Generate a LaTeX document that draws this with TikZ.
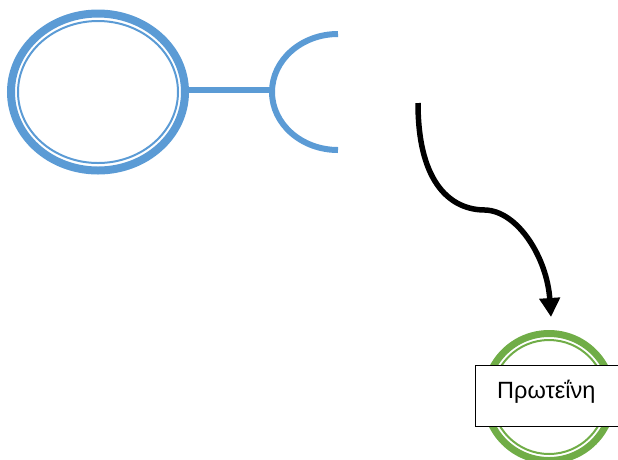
\documentclass[tikz,border=0pt]{standalone}
\usepackage{fontspec}
\setmainfont{Liberation Sans}
\usetikzlibrary{shapes.geometric,arrows.meta}
\definecolor{cellblue}{HTML}{5B9BD5}
\definecolor{protgreen}{HTML}{70AD47}
\tikzset{
  ringthick/.style={draw, line width=#1, inner sep=0pt, outer sep=0pt},
  bluepart/.style={cellblue},
  greenpart/.style={protgreen},
  flow/.style={line width=5.5pt, -{Triangle[width=20pt,length=19pt]}},
  labelbox/.style={draw=black, line width=1pt, fill=white, rectangle, inner sep=0pt, outer sep=0pt}
}
\begin{document}
\begin{tikzpicture}[x=1pt, y=-1pt]
\useasboundingbox (0,0) rectangle (618,459);

% receptor body: heavy ring with a thin ring just inside
\node[ellipse, ringthick=8pt, bluepart, minimum width=174pt, minimum height=157pt] (cell) at (98,92) {};
\node[ellipse, ringthick=2pt, bluepart, minimum width=160pt, minimum height=142pt] (cellin) at (98,92) {};

% stalk and cup-shaped binding site
\coordinate (cuptop) at (338,34);
\coordinate (cupleft) at (272,92);
\draw[bluepart, line width=6pt] (cell.east |- 0,90) -- (cupleft |- 0,90);
\draw[bluepart, line width=6pt] (cuptop) arc[start angle=270, end angle=90, x radius=66, y radius=58];

% protein: heavy green ring with a thin inner ring
\node[circle, ringthick=7pt, greenpart, minimum size=127pt] (protein) at (549,397) {};
\node[circle, ringthick=2pt, greenpart, minimum size=114pt] (proteinin) at (549,397) {};

% signal pathway
\coordinate (sigstart) at (418,103);
\coordinate (sigmid) at (485,210);
\coordinate (sigend) at (551,317);
\draw[flow] (sigstart) .. controls (418,185) and (452,210) .. (sigmid)
            .. controls (518,211) and (547,258) .. (sigend);

% label box over the protein
\node[labelbox, anchor=north west, minimum width=175pt, minimum height=61pt] (labelframe) at (475,365.5) {};
\node[anchor=base west, inner sep=0pt, font=\fontsize{23.5pt}{28pt}\selectfont] (labeltext) at (497,398) {Πρωτεΐνη};
\end{tikzpicture}
\end{document}
